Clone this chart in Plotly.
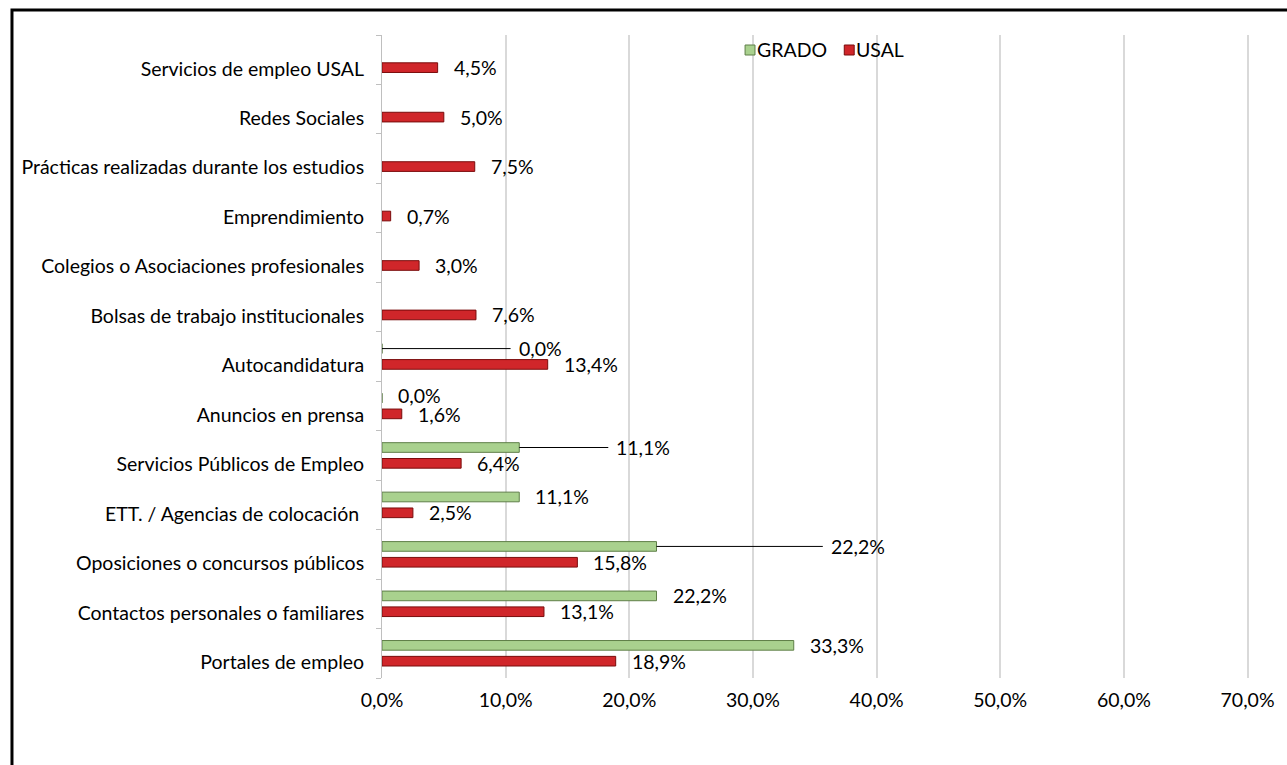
import plotly.graph_objects as go

categories = [
    "Portales de empleo",
    "Contactos personales o familiares",
    "Oposiciones o concursos públicos",
    "ETT. / Agencias de colocación ",
    "Servicios Públicos de Empleo",
    "Anuncios en prensa",
    "Autocandidatura",
    "Bolsas de trabajo institucionales",
    "Colegios o Asociaciones profesionales",
    "Emprendimiento",
    "Prácticas realizadas durante los estudios",
    "Redes Sociales",
    "Servicios de empleo USAL",
]
grado = [33.3, 22.2, 22.2, 11.1, 11.1, 0.0, 0.0, None, None, None, None, None, None]
usal = [18.9, 13.1, 15.8, 2.5, 6.4, 1.6, 13.4, 7.6, 3.0, 0.7, 7.5, 5.0, 4.5]
x_ticks = [0, 10, 20, 30, 40, 50, 60, 70]

# GRADO labels that Excel moved away from the bar (label x in % units)
moved_grado_labels = {
    "Autocandidatura": 11.05,
    "Servicios Públicos de Empleo": 18.95,
    "Oposiciones o concursos públicos": 36.3,
}
# small vertical nudges (px) for crowded labels
grado_label_yshift = {"Anuncios en prensa": 3}
usal_label_yshift = {"Anuncios en prensa": -1}

FONT = "Lato, Carlito, Calibri, sans-serif"
FS = 19.5
GREEN = "#a9d18e"
GREEN_EDGE = "#5f7f48"
RED = "#d0262a"
RED_EDGE = "#7a0c0c"
OFF = 0.16  # half slot offset of grouped bars (category units)

W, H = 1287, 765
L, T = 382, 35
PW, PH = 875, 643


def fmt(v):
    return f"{v:.1f}%".replace(".", ",")


def px_x(p):  # page pixel -> paper x
    return (p - L) / PW


def px_y(p):  # page pixel -> paper y
    return 1 - (p - T) / PH


fig = go.Figure()
fig.add_trace(go.Bar(
    y=categories, x=[v / 100 for v in usal], orientation="h", name="USAL",
    marker=dict(color=RED, line=dict(color=RED_EDGE, width=1)),
    showlegend=False, hoverinfo="x+y",
))
fig.add_trace(go.Bar(
    y=categories, x=[None if v is None else v / 100 for v in grado], orientation="h", name="GRADO",
    marker=dict(color=GREEN, line=dict(color=GREEN_EDGE, width=1)),
    showlegend=False, hoverinfo="x+y",
))

annotations = []
shapes = []
lab_font = dict(family=FONT, size=FS, color="#000000")

for i, (c, v) in enumerate(zip(categories, usal)):
    annotations.append(dict(x=v / 100, y=i - OFF, xref="x", yref="y", text=fmt(v),
                            showarrow=False, xanchor="left", yanchor="middle",
                            xshift=14, yshift=usal_label_yshift.get(c, 0), font=lab_font))
for i, (c, v) in enumerate(zip(categories, grado)):
    if v is None:
        continue
    if c in moved_grado_labels:
        lx = moved_grado_labels[c] / 100
        shapes.append(dict(type="line", xref="x", yref="y", x0=v / 100, x1=lx - 0.0065,
                           y0=i + OFF, y1=i + OFF, line=dict(color="#000000", width=1)))
        annotations.append(dict(x=lx, y=i + OFF, xref="x", yref="y", text=fmt(v),
                                showarrow=False, xanchor="left", yanchor="middle",
                                xshift=-2, font=lab_font))
    else:
        annotations.append(dict(x=v / 100, y=i + OFF, xref="x", yref="y", text=fmt(v),
                                showarrow=False, xanchor="left", yanchor="middle",
                                xshift=14, yshift=grado_label_yshift.get(c, 0), font=lab_font))

# custom legend
leg_y = px_y(50)
for name, col, edge, px in [("GRADO", GREEN, GREEN_EDGE, 748), ("USAL", RED, RED_EDGE, 848)]:
    x0 = px_x(px)
    shapes.append(dict(type="rect", xref="paper", yref="paper",
                       x0=x0, x1=x0 + 10 / PW, y0=leg_y - 5 / PH, y1=leg_y + 5 / PH,
                       fillcolor=col, line=dict(color=edge, width=1)))
    annotations.append(dict(x=x0 + 10 / PW, y=leg_y, xref="paper", yref="paper", text=name,
                            showarrow=False, xanchor="left", yanchor="middle",
                            font=lab_font))

# chart frame
shapes.append(dict(type="rect", xref="paper", yref="paper",
                   x0=px_x(9), x1=px_x(1320),
                   y0=px_y(820), y1=px_y(10),
                   line=dict(color="#000000", width=3), fillcolor="rgba(0,0,0,0)", layer="below"))

fig.update_layout(
    width=W, height=H,
    margin=dict(l=L, r=W - L - PW, t=T, b=H - T - PH),
    paper_bgcolor="white", plot_bgcolor="white",
    barmode="group", bargap=0.36, bargroupgap=0.39,
    separators=",.",
    font=dict(family=FONT, size=FS, color="#000000"),
    annotations=annotations, shapes=shapes,
    showlegend=False,
    xaxis=dict(range=[0, 0.702], tickvals=[t / 100 for t in x_ticks], tickformat=".1%",
               showgrid=True, gridcolor="#d9d9d9", gridwidth=2, zeroline=False,
               showline=False, ticks="", tickfont=dict(family=FONT, size=FS),
               ticklabelstandoff=8, ticklabeloverflow="allow"),
    yaxis=dict(type="category", categoryorder="array", categoryarray=categories,
               showline=True, linecolor="#bfbfbf", linewidth=1,
               ticks="outside", tickson="boundaries", ticklen=5, tickcolor="#bfbfbf",
               showgrid=False, tickfont=dict(family=FONT, size=FS),
               ticklabelshift=9, ticklabelstandoff=13),
)

fig.write_html(
    "out.html",
    config={"displayModeBar": False},
    post_script="document.body.style.margin='0px';document.body.style.overflow='hidden';",
)
